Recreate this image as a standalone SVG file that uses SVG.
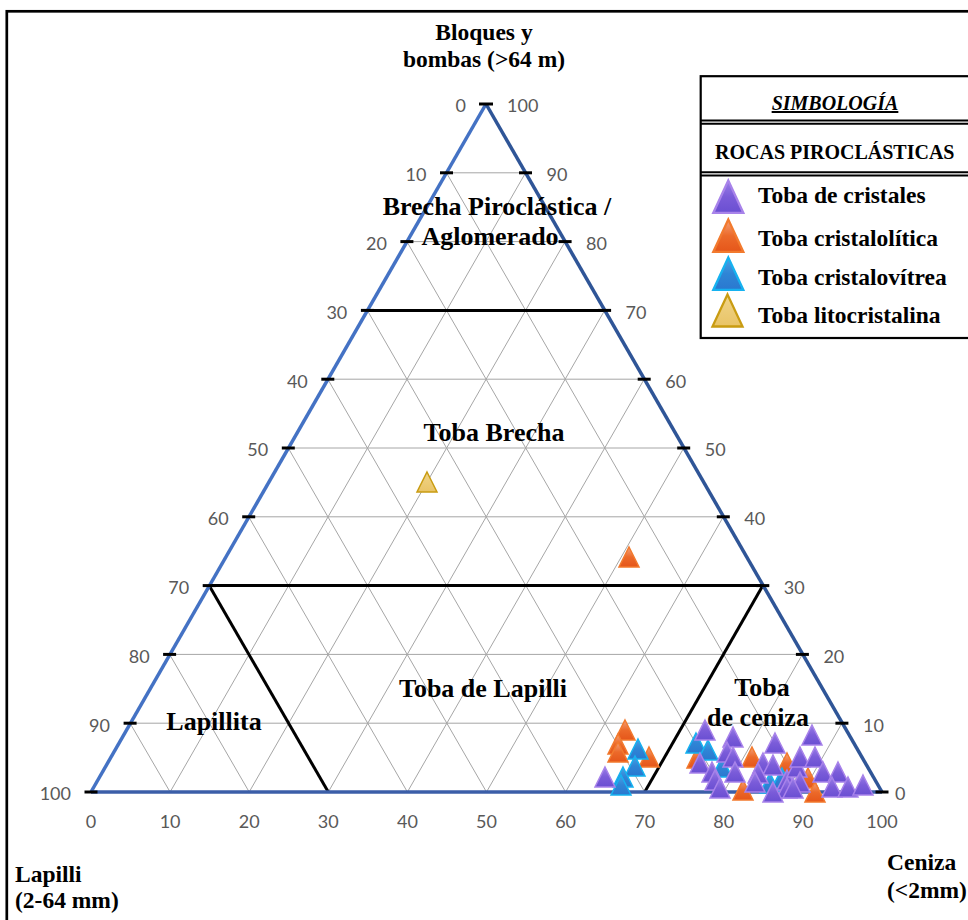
<svg xmlns="http://www.w3.org/2000/svg" xmlns:xlink="http://www.w3.org/1999/xlink" width="968" height="920" viewBox="0 0 968 920">
  <defs>
    <style>
      .grid { stroke: #a6a6a6; stroke-width: 1; fill: none; }
      .bound { stroke: #000; stroke-width: 3; fill: none; }
      .tick { stroke: #000; stroke-width: 3; }
      .num { font-family: Lato, "Liberation Sans", sans-serif; font-size: 18px; fill: #595959; }
      .numL { text-anchor: end; }
      .numB { text-anchor: middle; }
      .zone { font-family: "Liberation Serif", "Times New Roman", serif; font-weight: bold; font-size: 26px; fill: #000; text-anchor: middle; }
      .axis { font-family: "Liberation Serif", "Times New Roman", serif; font-weight: bold; font-size: 23.5px; fill: #000; }
      .leg { font-family: "Liberation Serif", "Times New Roman", serif; font-weight: bold; font-size: 23.5px; fill: #000; }
      .legh { font-family: "Liberation Serif", "Times New Roman", serif; font-weight: bold; font-size: 20px; fill: #000; }
      .p { fill: url(#gp); stroke: #a883ea; stroke-width: 1.5; }
      .o { fill: url(#go); stroke: #f27a2e; stroke-width: 1.5; }
      .b { fill: url(#gb); stroke: #16b2f0; stroke-width: 1.5; }
      .y { fill: url(#gy); stroke: #c99c12; stroke-width: 1.5; }
    </style>
    <linearGradient id="gp" x1="0" y1="0" x2="0" y2="1">
      <stop offset="0" stop-color="#9a7fe6"/>
      <stop offset="0.5" stop-color="#7b5cd9"/>
      <stop offset="1" stop-color="#6a4fd2"/>
    </linearGradient>
    <linearGradient id="go" x1="0" y1="0" x2="0" y2="1">
      <stop offset="0" stop-color="#f3a27c"/>
      <stop offset="0.5" stop-color="#ec6a2a"/>
      <stop offset="1" stop-color="#e5561a"/>
    </linearGradient>
    <linearGradient id="gb" x1="0" y1="0" x2="0" y2="1">
      <stop offset="0" stop-color="#4aa2e4"/>
      <stop offset="0.5" stop-color="#2f85d6"/>
      <stop offset="1" stop-color="#2a78cf"/>
    </linearGradient>
    <linearGradient id="gy" x1="0" y1="0" x2="0" y2="1">
      <stop offset="0" stop-color="#f0d48a"/>
      <stop offset="1" stop-color="#e9c466"/>
    </linearGradient>
    <!-- data marker: apex at the origin -->
    <path id="m" d="M0 0 L10 20 L-10 20 Z"/>
  </defs>

  <rect width="968" height="920" fill="#fff"/>

  <!-- outer frame -->
  <rect x="6.8" y="11.3" width="990" height="940" fill="none" stroke="#000" stroke-width="2.7"/>

  <!-- ternary grid -->
  <g id="grid">
    <!-- horizontal levels -->
    <line class="grid" x1="446.45" y1="172.8" x2="525.55" y2="172.8"/>
    <line class="grid" x1="406.9" y1="241.6" x2="565.1" y2="241.6"/>
    <line class="grid" x1="327.8" y1="379.2" x2="644.2" y2="379.2"/>
    <line class="grid" x1="288.25" y1="448" x2="683.75" y2="448"/>
    <line class="grid" x1="248.7" y1="516.8" x2="723.3" y2="516.8"/>
    <line class="grid" x1="169.6" y1="654.4" x2="802.4" y2="654.4"/>
    <line class="grid" x1="130.05" y1="723.2" x2="841.95" y2="723.2"/>
    <!-- parallel to the left side -->
    <line class="grid" x1="170.1" y1="792" x2="525.55" y2="172.8"/>
    <line class="grid" x1="249.2" y1="792" x2="565.1" y2="241.6"/>
    <line class="grid" x1="328.3" y1="792" x2="604.65" y2="310.4"/>
    <line class="grid" x1="407.4" y1="792" x2="644.2" y2="379.2"/>
    <line class="grid" x1="486.5" y1="792" x2="683.75" y2="448"/>
    <line class="grid" x1="565.6" y1="792" x2="723.3" y2="516.8"/>
    <line class="grid" x1="644.7" y1="792" x2="762.85" y2="585.6"/>
    <line class="grid" x1="723.8" y1="792" x2="802.4" y2="654.4"/>
    <line class="grid" x1="802.9" y1="792" x2="841.95" y2="723.2"/>
    <!-- parallel to the right side -->
    <line class="grid" x1="170.1" y1="792" x2="130.05" y2="723.2"/>
    <line class="grid" x1="249.2" y1="792" x2="169.6" y2="654.4"/>
    <line class="grid" x1="328.3" y1="792" x2="209.15" y2="585.6"/>
    <line class="grid" x1="407.4" y1="792" x2="248.7" y2="516.8"/>
    <line class="grid" x1="486.5" y1="792" x2="288.25" y2="448"/>
    <line class="grid" x1="565.6" y1="792" x2="327.8" y2="379.2"/>
    <line class="grid" x1="644.7" y1="792" x2="367.35" y2="310.4"/>
    <line class="grid" x1="723.8" y1="792" x2="406.9" y2="241.6"/>
    <line class="grid" x1="802.9" y1="792" x2="446.45" y2="172.8"/>
  </g>

  <!-- field boundaries -->
  <g id="boundaries">
    <line class="bound" x1="367.35" y1="310.4" x2="604.65" y2="310.4"/>
    <line class="bound" x1="209.15" y1="585.6" x2="762.85" y2="585.6"/>
    <line class="bound" x1="209.15" y1="585.6" x2="328.3" y2="792"/>
    <line class="bound" x1="762.85" y1="585.6" x2="644.7" y2="792"/>
  </g>

  <!-- triangle sides -->
  <g id="frame">
    <line x1="486" y1="104" x2="91" y2="792" stroke="#4472c4" stroke-width="3.5"/>
    <line x1="486" y1="104" x2="882" y2="792" stroke="#2f5597" stroke-width="3.5"/>
    <line x1="91" y1="792" x2="882" y2="792" stroke="#3b5ea8" stroke-width="3.5"/>
  </g>

  <!-- ticks -->
  <g id="ticks">
    <line class="tick" x1="479" y1="104" x2="493" y2="104"/>
    <line class="tick" x1="440" y1="172.8" x2="453" y2="172.8"/>
    <line class="tick" x1="400.4" y1="241.6" x2="413.4" y2="241.6"/>
    <line class="tick" x1="360.9" y1="310.4" x2="373.9" y2="310.4"/>
    <line class="tick" x1="321.3" y1="379.2" x2="334.3" y2="379.2"/>
    <line class="tick" x1="281.8" y1="448" x2="294.8" y2="448"/>
    <line class="tick" x1="242.2" y1="516.8" x2="255.2" y2="516.8"/>
    <line class="tick" x1="202.7" y1="585.6" x2="215.7" y2="585.6"/>
    <line class="tick" x1="163.1" y1="654.4" x2="176.1" y2="654.4"/>
    <line class="tick" x1="123.6" y1="723.2" x2="136.6" y2="723.2"/>
    <line class="tick" x1="84.5" y1="792" x2="97.5" y2="792"/>
    <line class="tick" x1="519" y1="172.8" x2="532" y2="172.8"/>
    <line class="tick" x1="558.6" y1="241.6" x2="571.6" y2="241.6"/>
    <line class="tick" x1="598.1" y1="310.4" x2="611.1" y2="310.4"/>
    <line class="tick" x1="637.7" y1="379.2" x2="650.7" y2="379.2"/>
    <line class="tick" x1="677.2" y1="448" x2="690.2" y2="448"/>
    <line class="tick" x1="716.8" y1="516.8" x2="729.8" y2="516.8"/>
    <line class="tick" x1="756.3" y1="585.6" x2="769.3" y2="585.6"/>
    <line class="tick" x1="795.9" y1="654.4" x2="808.9" y2="654.4"/>
    <line class="tick" x1="835.4" y1="723.2" x2="848.4" y2="723.2"/>
    <line class="tick" x1="875.5" y1="792" x2="888.5" y2="792"/>
  </g>

  <!-- tick labels -->
  <g id="labels-left">
    <text class="num numL" x="466" y="112">0</text>
    <text class="num numL" x="426.5" y="181">10</text>
    <text class="num numL" x="387" y="250">20</text>
    <text class="num numL" x="347.3" y="318.5">30</text>
    <text class="num numL" x="307.8" y="387.5">40</text>
    <text class="num numL" x="268.2" y="456">50</text>
    <text class="num numL" x="228.7" y="525">60</text>
    <text class="num numL" x="189.2" y="594">70</text>
    <text class="num numL" x="149.6" y="662.5">80</text>
    <text class="num numL" x="110" y="731.5">90</text>
    <text class="num numL" x="71" y="800">100</text>
  </g>
  <g id="labels-right">
    <text class="num" x="507" y="112">100</text>
    <text class="num" x="546.5" y="181">90</text>
    <text class="num" x="586" y="250">80</text>
    <text class="num" x="625.6" y="318.5">70</text>
    <text class="num" x="665.2" y="387.5">60</text>
    <text class="num" x="704.7" y="456">50</text>
    <text class="num" x="744.3" y="525">40</text>
    <text class="num" x="783.8" y="594">30</text>
    <text class="num" x="823.4" y="662.5">20</text>
    <text class="num" x="863" y="731.5">10</text>
    <text class="num" x="895" y="800">0</text>
  </g>
  <g id="labels-bottom">
    <text class="num numB" x="91" y="828">0</text>
    <text class="num numB" x="170.1" y="828">10</text>
    <text class="num numB" x="249.2" y="828">20</text>
    <text class="num numB" x="328.3" y="828">30</text>
    <text class="num numB" x="407.4" y="828">40</text>
    <text class="num numB" x="486.5" y="828">50</text>
    <text class="num numB" x="565.6" y="828">60</text>
    <text class="num numB" x="644.7" y="828">70</text>
    <text class="num numB" x="723.8" y="828">80</text>
    <text class="num numB" x="802.9" y="828">90</text>
    <text class="num numB" x="882" y="828">100</text>
  </g>

  <!-- field names -->
  <g id="zones">
    <text class="zone" x="497" y="215">Brecha Piroclástica /</text>
    <text class="zone" x="490" y="245">Aglomerado</text>
    <text class="zone" x="494" y="441">Toba Brecha</text>
    <text class="zone" x="483" y="697">Toba de Lapilli</text>
    <text class="zone" x="214" y="730">Lapillita</text>
    <text class="zone" x="762" y="696">Toba</text>
    <text class="zone" x="758" y="726">de ceniza</text>
  </g>

  <!-- end-member titles -->
  <g id="axis-titles">
    <text class="axis" x="484" y="39.5" text-anchor="middle">Bloques y</text>
    <text class="axis" x="484" y="66.5" text-anchor="middle">bombas (&gt;64 m)</text>
    <text class="axis" x="15" y="882">Lapilli</text>
    <text class="axis" x="15" y="908">(2-64 mm)</text>
    <text class="axis" x="887" y="870">Ceniza</text>
    <text class="axis" x="887" y="898">(&lt;2mm)</text>
  </g>

  <!-- samples -->
  <g id="samples">
    <g id="toba-litocristalina">
      <use href="#m" class="y" x="427" y="472"/>
    </g>
    <g id="toba-cristalolitica">
      <use href="#m" class="o" x="629" y="547"/>
      <use href="#m" class="o" x="625" y="720"/>
      <use href="#m" class="o" x="618" y="734"/>
      <use href="#m" class="o" x="618" y="742"/>
      <use href="#m" class="o" x="649" y="747"/>
      <use href="#m" class="o" x="697" y="748"/>
      <use href="#m" class="o" x="752" y="747"/>
      <use href="#m" class="o" x="787" y="753"/>
      <use href="#m" class="o" x="808" y="768"/>
      <use href="#m" class="o" x="743" y="780"/>
      <use href="#m" class="o" x="815" y="782"/>
    </g>
    <g id="toba-cristalovitrea">
      <use href="#m" class="b" x="638" y="739"/>
      <use href="#m" class="b" x="635" y="756"/>
      <use href="#m" class="b" x="623" y="767"/>
      <use href="#m" class="b" x="621" y="775"/>
      <use href="#m" class="b" x="696" y="733"/>
      <use href="#m" class="b" x="708" y="740"/>
      <use href="#m" class="b" x="722" y="757"/>
      <use href="#m" class="b" x="770" y="773"/>
      <use href="#m" class="b" x="782" y="768"/>
    </g>
    <g id="toba-de-cristales">
      <use href="#m" class="p" x="605" y="767"/>
      <use href="#m" class="p" x="705" y="720"/>
      <use href="#m" class="p" x="700" y="753"/>
      <use href="#m" class="p" x="712" y="762"/>
      <use href="#m" class="p" x="715" y="770"/>
      <use href="#m" class="p" x="720" y="778"/>
      <use href="#m" class="p" x="733" y="727"/>
      <use href="#m" class="p" x="727" y="742"/>
      <use href="#m" class="p" x="733" y="747"/>
      <use href="#m" class="p" x="735" y="762"/>
      <use href="#m" class="p" x="775" y="733"/>
      <use href="#m" class="p" x="763" y="753"/>
      <use href="#m" class="p" x="773" y="755"/>
      <use href="#m" class="p" x="758" y="763"/>
      <use href="#m" class="p" x="755" y="772"/>
      <use href="#m" class="p" x="787" y="770"/>
      <use href="#m" class="p" x="787" y="778"/>
      <use href="#m" class="p" x="797" y="757"/>
      <use href="#m" class="p" x="800" y="747"/>
      <use href="#m" class="p" x="812" y="725"/>
      <use href="#m" class="p" x="815" y="747"/>
      <use href="#m" class="p" x="823" y="762"/>
      <use href="#m" class="p" x="838" y="762"/>
      <use href="#m" class="p" x="832" y="777"/>
      <use href="#m" class="p" x="848" y="777"/>
      <use href="#m" class="p" x="863" y="775"/>
      <use href="#m" class="p" x="800" y="772"/>
      <use href="#m" class="p" x="773" y="782"/>
      <use href="#m" class="p" x="793" y="778"/>
    </g>
  </g>

  <!-- legend -->
  <g id="legend">
    <rect x="700.7" y="76.2" width="300" height="261.8" fill="#fff" stroke="#000" stroke-width="2.2"/>
    <line x1="700" y1="120.5" x2="968" y2="120.5" stroke="#000" stroke-width="2"/>
    <line x1="700" y1="123.8" x2="968" y2="123.8" stroke="#000" stroke-width="2"/>
    <line x1="700" y1="172.2" x2="968" y2="172.2" stroke="#000" stroke-width="2"/>
    <line x1="700" y1="175.5" x2="968" y2="175.5" stroke="#000" stroke-width="2"/>
    <text class="legh" x="835" y="110" text-anchor="middle" font-style="italic" text-decoration="underline">SIMBOLOGÍA</text>
    <text class="legh" x="715" y="159">ROCAS PIROCLÁSTICAS</text>
    <use href="#m" class="p" transform="translate(728.3,180.5) scale(1.5,1.62)" stroke-width="1"/>
    <use href="#m" class="o" transform="translate(728.3,219.5) scale(1.5,1.62)" stroke-width="1"/>
    <use href="#m" class="b" transform="translate(728.3,257.5) scale(1.5,1.62)" stroke-width="1"/>
    <use href="#m" class="y" transform="translate(727.5,294.5) scale(1.5,1.6)" stroke-width="1"/>
    <text class="leg" x="758" y="203.3">Toba de cristales</text>
    <text class="leg" x="758" y="245.7">Toba cristalolítica</text>
    <text class="leg" x="758" y="285">Toba cristalovítrea</text>
    <text class="leg" x="758" y="323.3">Toba litocristalina</text>
  </g>
</svg>
